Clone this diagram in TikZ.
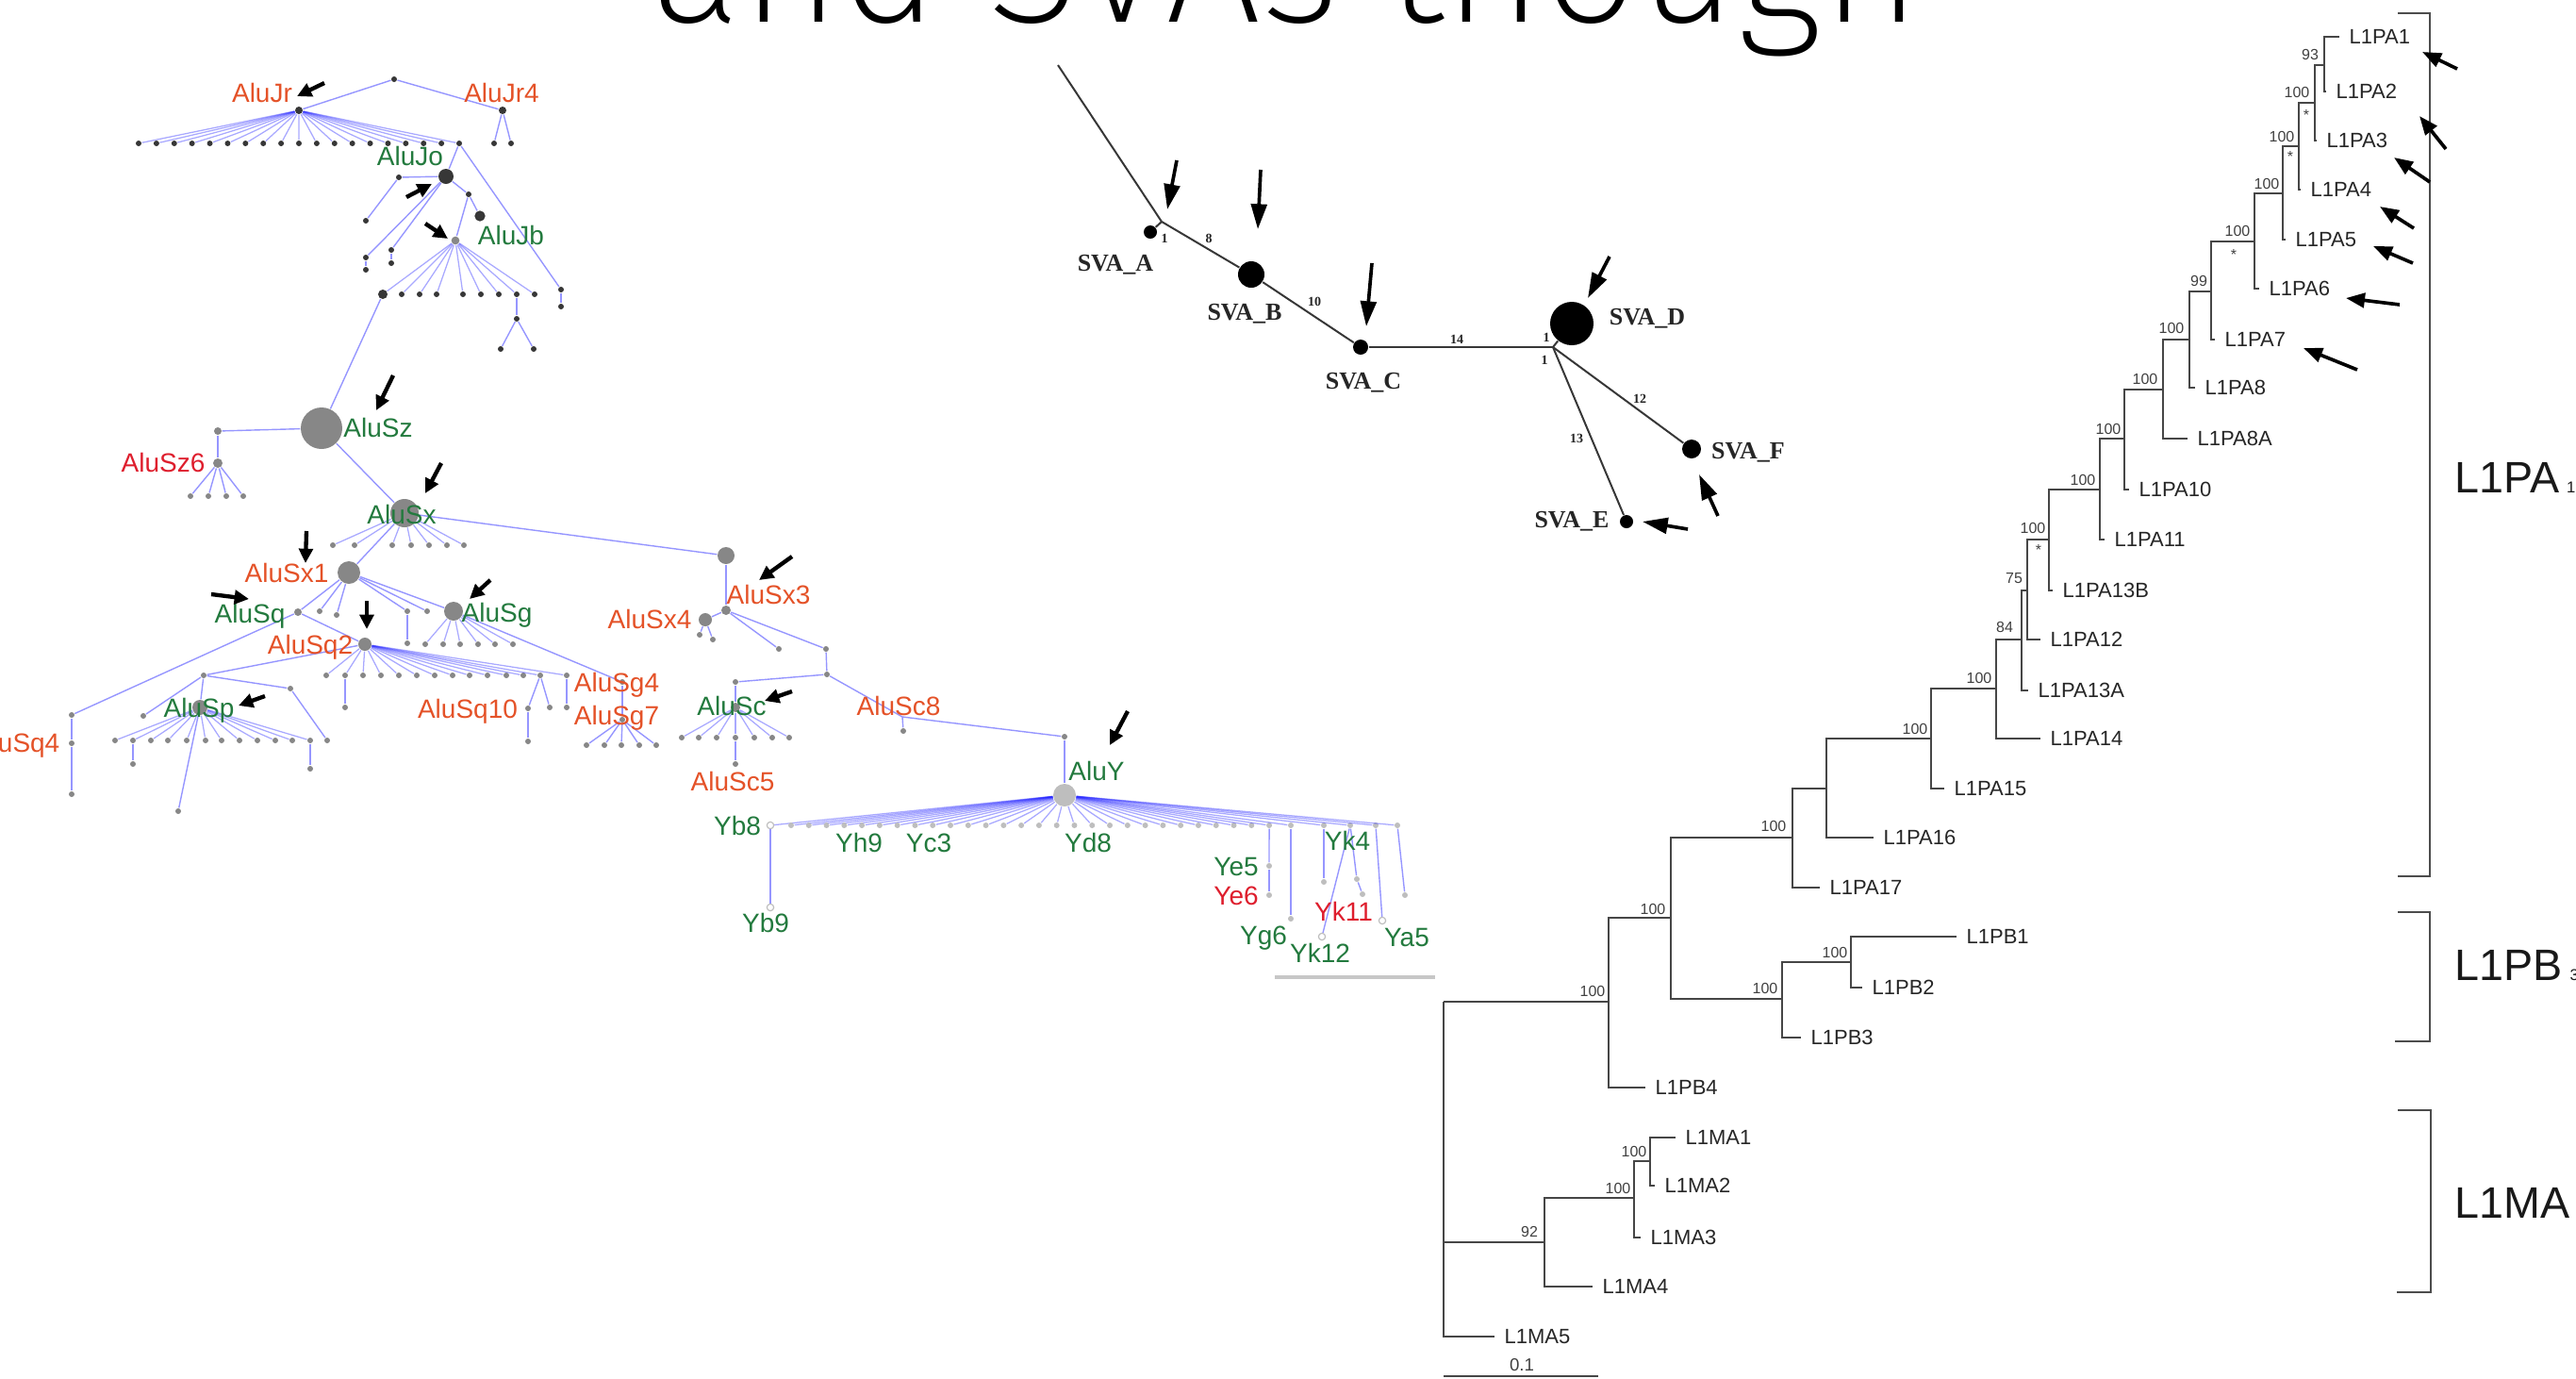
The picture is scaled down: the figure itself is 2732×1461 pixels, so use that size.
\documentclass[tikz,border=0pt]{standalone}
\usepackage{fontspec}
\setmainfont{Liberation Sans}
\newfontfamily\svafont{Liberation Serif}
\IfFontExistsTF{Fira Sans ExtraLight}{\newfontfamily\titlefont{Fira Sans ExtraLight}}{%
 \IfFontExistsTF{Fira Sans Light}{\newfontfamily\titlefont{Fira Sans Light}}{%
  \IfFontExistsTF{Lato Light}{\newfontfamily\titlefont{Lato Light}}{\newfontfamily\titlefont{Liberation Sans}}}}
\usetikzlibrary{arrows.meta}
\definecolor{aluline}{RGB}{150,150,255}
\definecolor{fanline}{RGB}{30,30,255}
\definecolor{dknode}{RGB}{55,55,55}
\definecolor{gynode}{RGB}{135,135,135}
\definecolor{ltnode}{RGB}{190,190,190}
\definecolor{orlab}{RGB}{228,82,40}
\definecolor{rdlab}{RGB}{222,30,45}
\definecolor{gnlab}{RGB}{35,122,62}
\definecolor{trline}{RGB}{70,70,70}
\definecolor{svaline}{RGB}{55,55,55}
\newcommand{\parrow}[4][ptr]{\coordinate (#2s) at (#3);\coordinate (#2e) at (#4);\draw[#1] (#2s) -- (#2e);}
\begin{document}
\begin{tikzpicture}[x=0.3pt,y=-0.3pt,
 ed/.style={draw=aluline,line width=0.42pt},
 fan/.style={draw=fanline,line width=0.38pt,draw opacity=0.38},
 dk/.style={circle,fill=dknode,inner sep=0pt,minimum size=#1},dk/.default=1.8pt,
 gy/.style={circle,fill=gynode,inner sep=0pt,minimum size=#1},gy/.default=1.8pt,
 lt/.style={circle,fill=ltnode,inner sep=0pt,minimum size=#1},lt/.default=1.8pt,
 op/.style={circle,draw=ltnode,fill=white,line width=0.35pt,inner sep=0pt,minimum size=2.2pt},
 alab/.style={font=\fontsize{8.4}{9}\selectfont,inner sep=0pt,anchor=mid},
 ora/.style={alab,text=orlab},
 rda/.style={alab,text=rdlab},
 gna/.style={alab,text=gnlab},
 ptr/.style={-{Triangle[length=4.6pt,width=4.4pt]},line width=1.3pt,black},
 ptrs/.style={-{Triangle[length=8pt,width=5pt]},line width=1.1pt,black},
 ptrl/.style={-{Triangle[length=6pt,width=4.6pt]},line width=1.1pt,black},
 sv/.style={draw=svaline,line width=0.6pt},
 svdot/.style={circle,fill=black,inner sep=0pt,minimum size=#1},
 svlab/.style={font=\svafont\bfseries\fontsize{7.8}{8}\selectfont,inner sep=0pt,anchor=mid,text=black!85},
 svnum/.style={font=\svafont\bfseries\fontsize{4.2}{5}\selectfont,inner sep=0pt,text=black!85},
 tr/.style={draw=trline,line width=0.6pt},
 leaf/.style={font=\fontsize{6.6}{7}\selectfont,anchor=west,inner xsep=3pt,inner ysep=0pt,text=black!85},
 bs/.style={font=\fontsize{4.8}{5}\selectfont,inner sep=0pt,text=black!75},
 brk/.style={draw=black!70,line width=0.8pt},
 big/.style={font=\fontsize{14}{15}\selectfont,inner sep=0pt,anchor=base west,text=black!90},
]
\useasboundingbox (0,0) rectangle (2732,1461);

% ---------------- title ----------------
\node[font=\titlefont\fontsize{54}{56}\selectfont,anchor=base,inner sep=0pt] (title) at (1364,23) {and SVAs though};

% ---------------- Alu network: top ----------------
\node[dk] (top) at (418,84) {};
\node[dk=2.4pt] (jr) at (317,117) {};
\node[dk=2.4pt] (jr4) at (533,117) {};
\node[dk] (jr4a) at (524,152) {};
\node[dk] (jr4b) at (542,152) {};
\draw[ed] (top) -- (jr); \draw[ed] (top) -- (jr4);
\draw[ed] (jr4) -- (jr4a); \draw[ed] (jr4) -- (jr4b);
\foreach \i in {0,...,18}{\node[dk] (jr\i) at ({147+18.89*\i},152) {}; \draw[fan] (jr) -- (jr\i);}
\node[dk=4.8pt] (jo) at (473,187) {};
\node[dk] (jo1) at (423,188) {};
\node[dk] (jo1a) at (388,234) {};
\node[dk] (jo2) at (388,273) {};
\node[dk] (jo2a) at (388,286) {};
\node[dk] (jo3) at (415,265) {};
\node[dk] (jo3a) at (415,279) {};
\node[dk] (jo4) at (497,206) {};
\node[dk=3.4pt] (jo4a) at (509,229) {};
\node[dk] (jl1) at (595,307) {};
\node[dk] (jl2) at (595,325) {};
\node[gy=2.6pt] (jb) at (483,255) {};
\draw[ed] (jr18) -- (jo);
\draw[ed] (jr18) -- (jl1);
\draw[ed] (jl1) -- (jl2);
\draw[ed] (jo) -- (jo1); \draw[ed] (jo1) -- (jo1a);
\draw[ed] (jo) -- (jo2); \draw[ed] (jo2) -- (jo2a);
\draw[ed] (jo) -- (jo3); \draw[ed] (jo3) -- (jo3a);
\draw[ed] (jo) -- (jo4); \draw[ed] (jo4) -- (jo4a);
\draw[ed] (jo4) -- (jb);
\node[dk=3pt] (jb1) at (406,312) {}; \draw[fan] (jb) -- (jb1);
\foreach \x/\i in {426/2,445/3,463/4,491/5,510/6,529/7,548/8,567/9}{\node[dk] (jb\i) at (\x,312) {}; \draw[fan] (jb) -- (jb\i);}
\node[dk] (jbs) at (548,338) {};
\node[dk] (jbsa) at (531,370) {};
\node[dk] (jbsb) at (566,370) {};
\draw[ed] (jb8) -- (jbs); \draw[ed] (jbs) -- (jbsa); \draw[ed] (jbs) -- (jbsb);

% ---------------- AluSz / AluSx ----------------
\node[gy=13.2pt] (sz) at (341,454) {};
\draw[ed] (jb1) -- (sz);
\node[gy=2.4pt] (szl) at (231,457) {};
\node[gy=3pt] (sz6) at (231,491) {};
\draw[ed] (sz) -- (szl); \draw[ed] (szl) -- (sz6);
\foreach \x/\i in {202/1,221/2,240/3,258/4}{\node[gy] (sz6c\i) at (\x,526) {}; \draw[ed] (sz6) -- (sz6c\i);}
\node[gy=9pt] (sx) at (429,544) {};
\draw[ed] (sz) -- (sx);
\foreach \x/\i in {353/1,376/2,416/3,436/4,455/5,474/6,492/7}{\node[gy] (sxc\i) at (\x,578) {}; \draw[fan] (sx) -- (sxc\i);}
\node[gy=7.2pt] (sx1) at (370,607) {};
\node[gy=5.4pt] (sx3p) at (770,589) {};
\draw[ed] (sx) -- (sx1); \draw[ed] (sx) -- (sx3p);
\node[gy=2.4pt] (sq) at (316,649) {};
\node[gy] (sx1c2) at (339,648) {};
\node[gy] (sx1c3) at (357,652) {};
\node[gy] (sx1c4) at (432,648) {};
\node[gy] (sx1c4a) at (432,682) {};
\node[gy] (sx1c5) at (453,648) {};
\node[gy=6pt] (sg) at (481,648) {};
\foreach \nm in {sq,sx1c2,sx1c3,sx1c4,sx1c5,sg}{\draw[ed] (sx1) -- (\nm);}
\draw[ed] (sx1c4) -- (sx1c4a);

% AluSq2
\node[gy=4.2pt] (sq2) at (387,683) {};
\draw[ed] (sq) -- (sq2);
\foreach \x/\i in {346/1,366/2,385/3,404/4,423/5,442/6,461/7,480/8,498/9,517/10,537/11,555/12,573/13,601/14}{\node[gy] (qc\i) at (\x,716) {}; \draw[fan] (sq2) -- (qc\i);}
\node[gy] (qc2a) at (366,750) {}; \draw[ed] (qc2) -- (qc2a);
\node[gy] (qc13a) at (560,751) {}; \node[gy] (qc13b) at (583,750) {}; \node[gy] (qc13c) at (560,786) {};
\draw[ed] (qc13) -- (qc13a); \draw[ed] (qc13) -- (qc13b); \draw[ed] (qc13a) -- (qc13c);
\node[gy] (qc14a) at (601,750) {}; \draw[ed] (qc14) -- (qc14a);

% AluSp
\node[gy] (spp) at (216,716) {};
\draw[ed] (sq2) -- (spp);
\node[gy=4.8pt] (sp) at (212,750) {};
\draw[ed] (spp) -- (sp);
\node[gy] (spl) at (152,759) {}; \draw[ed] (spp) -- (spl);
\node[gy] (spr) at (308,730) {}; \draw[ed] (spp) -- (spr);
\node[gy] (sprr) at (347,785) {}; \draw[ed] (spr) -- (sprr);
\foreach \x/\i in {122/1,141/2,160/3,178/4,198/5,218/6,235/7,254/8,273/9,292/10,310/11,329/12}{\node[gy] (pc\i) at (\x,785) {}; \draw[fan] (sp) -- (pc\i);}
\node[gy] (pc2a) at (141,810) {}; \draw[ed] (pc2) -- (pc2a);
\node[gy] (pc12a) at (329,815) {}; \draw[ed] (pc12) -- (pc12a);
\node[gy] (spd) at (189,860) {}; \draw[ed] (sp) -- (spd);
\node[gy] (q4a) at (76,758) {}; \node[gy] (q4b) at (76,788) {}; \node[gy] (q4c) at (76,842) {};
\draw[ed] (sq) -- (q4a); \draw[ed] (q4a) -- (q4b); \draw[ed] (q4b) -- (q4c);

% AluSg
\foreach \x/\i in {451/1,470/2,488/3,507/4,525/5,544/6}{\node[gy] (gc\i) at (\x,683) {}; \draw[fan] (sg) -- (gc\i);}
\node[gy] (sg4) at (660,723) {}; \node[gy] (sg7) at (660,763) {};
\draw[ed] (sg) -- (sg4); \draw[ed] (sg4) -- (sg7);
\foreach \x/\i in {622/1,641/2,659/3,678/4,696/5}{\node[gy] (g7c\i) at (\x,790) {}; \draw[ed] (sg7) -- (g7c\i);}

% AluSx3 / AluSc
\node[gy=3pt] (sx3) at (770,647) {};
\draw[ed] (sx3p) -- (sx3);
\node[gy=4.2pt] (sx4) at (748,657) {};
\draw[ed] (sx3) -- (sx4);
\node[gy] (sx4a) at (742,673) {}; \node[gy] (sx4b) at (756,678) {};
\draw[ed] (sx4) -- (sx4a); \draw[ed] (sx4) -- (sx4b);
\node[gy] (x3a) at (826,688) {}; \draw[ed] (sx3) -- (x3a);
\node[gy] (x3b) at (876,688) {}; \draw[ed] (sx3) -- (x3b);
\node[gy] (x3c) at (877,715) {}; \draw[ed] (x3b) -- (x3c);
\node[gy] (scp) at (780,723) {}; \draw[ed] (x3c) -- (scp);
\node[gy=3pt] (sc) at (780,750) {}; \draw[ed] (scp) -- (sc);
\foreach \x/\i in {723/1,741/2,760/3,780/4,800/5,819/6,837/7}{\node[gy] (cc\i) at (\x,782) {}; \draw[fan] (sc) -- (cc\i);}
\node[gy] (sc5) at (780,810) {}; \draw[ed] (cc4) -- (sc5);
\coordinate (sc8) at (957,760); \draw[ed] (x3c) -- (sc8);
\node[gy] (sc8a) at (958,775) {}; \draw[ed] (sc8) -- (sc8a);
\node[gy] (yp) at (1129,781) {}; \draw[ed] (sc8) -- (yp);
\node[lt=7.2pt] (yh) at (1129,843) {}; \draw[ed] (yp) -- (yh);

% AluY fan
\node[op] (yb8) at (817,875) {}; \draw[fan] (yh) -- (yb8);
\foreach \i in {0,...,27}{\node[lt] (yc\i) at ({839+18.78*\i},875) {}; \draw[fan] (yh) -- (yc\i);}
\foreach \x/\nm in {1369/yg,1404/yx,1432/yk,1459/yz,1482/yw}{\node[lt] (\nm) at (\x,875) {}; \draw[fan] (yh) -- (\nm);}
\node[op] (yb9) at (817,962) {}; \draw[ed] (yb8) -- (yb9);
\node[lt] (ye5) at (1346,918) {}; \node[lt] (ye6) at (1346,949) {};
\draw[ed] (yc27) -- (ye5); \draw[ed] (ye5) -- (ye6);
\node[lt] (yg6) at (1369,974) {}; \draw[ed] (yg) -- (yg6);
\node[lt] (yxa) at (1404,935) {}; \draw[ed] (yx) -- (yxa);
\node[op] (yk12) at (1402,993) {}; \draw[ed] (yk) -- (yk12);
\node[lt] (yk11) at (1439,932) {}; \draw[ed] (yk) -- (yk11);
\node[lt] (yk11a) at (1445,948) {}; \draw[ed] (yk11) -- (yk11a);
\node[op] (ya5) at (1466,976) {}; \draw[ed] (yz) -- (ya5);
\node[lt] (ywa) at (1490,949) {}; \draw[ed] (yw) -- (ywa);
\coordinate (asb1) at (1352,1036); \coordinate (asb2) at (1522,1036);
\draw[draw=black!22,line width=1.2pt] (asb1) -- (asb2);

% Alu labels
\node[ora] (lJr) at (278,100) {AluJr};
\node[ora] (lJr4) at (532,100) {AluJr4};
\node[gna] (lJo) at (435,167) {AluJo};
\node[gna] (lJb) at (542,251) {AluJb};
\node[gna] (lSz) at (401,455) {AluSz};
\node[rda] (lSz6) at (173,492) {AluSz6};
\node[gna] (lSx) at (426,547) {AluSx};
\node[ora] (lSx1) at (304,609) {AluSx1};
\node[gna] (lSq) at (265,652) {AluSq};
\node[gna] (lSg) at (527,651) {AluSg};
\node[ora] (lSq2) at (329,685) {AluSq2};
\node[ora] (lSq10) at (496,753) {AluSq10};
\node[ora] (lSg4) at (654,725) {AluSg4};
\node[ora] (lSg7) at (654,760) {AluSg7};
\node[gna] (lSp) at (211,752) {AluSp};
\node[ora,anchor=east] (lSq4) at (64,790) {AluSq4};
\node[ora] (lSx3) at (815,632) {AluSx3};
\node[ora] (lSx4) at (689,658) {AluSx4};
\node[gna] (lSc) at (776,750) {AluSc};
\node[ora] (lSc5) at (777,830) {AluSc5};
\node[ora] (lSc8) at (953,750) {AluSc8};
\node[gna] (lY) at (1163,819) {AluY};
\node[gna] (lYb8) at (782,877) {Yb8};
\node[gna] (lYb9) at (812,980) {Yb9};
\node[gna] (lYh9) at (911,895) {Yh9};
\node[gna] (lYc3) at (985,895) {Yc3};
\node[gna] (lYd8) at (1154,895) {Yd8};
\node[gna] (lYe5) at (1311,920) {Ye5};
\node[rda] (lYe6) at (1311,951) {Ye6};
\node[gna] (lYg6) at (1340,993) {Yg6};
\node[gna] (lYk4) at (1429,893) {Yk4};
\node[rda] (lYk11) at (1425,968) {Yk11};
\node[gna] (lYk12) at (1400,1012) {Yk12};
\node[gna] (lYa5) at (1492,995) {Ya5};

% Alu arrows
\parrow{aa1}{344,88}{315,102}
\parrow{aa2}{431,209}{458,195}
\parrow{aa3}{451,237}{475,253}
\parrow{aa4}{417,398}{399,435}
\parrow{aa5}{468,491}{451,523}
\parrow{aa6}{325,563}{324,597}
\parrow{aa7}{224,630}{264,635}
\parrow{aa8}{389,637}{389,667}
\parrow{aa9}{520,615}{498,635}
\parrow{aa10}{281,738}{253,748}
\parrow{aa11}{840,590}{805,615}
\parrow{aa12}{840,733}{811,743}
\parrow{aa13}{1196,754}{1177,790}

% ---------------- SVA network ----------------
\coordinate (svtop) at (1122,69);
\coordinate (ja) at (1232,235);
\coordinate (jd) at (1647,368);
\node[svdot=4.2pt] (sA) at (1220,246) {};
\node[svdot=8.4pt] (sB) at (1327,291) {};
\node[svdot=4.8pt] (sC) at (1443,368) {};
\node[svdot=13.8pt] (sD) at (1667,343) {};
\node[svdot=6pt] (sF) at (1794,476) {};
\node[svdot=4.2pt] (sE) at (1725,553) {};
\draw[sv] (svtop) -- (ja);
\draw[sv] (ja) -- (sA);
\draw[sv] (ja) -- (sB);
\draw[sv] (sB) -- (sC);
\draw[sv] (sC) -- (jd);
\draw[sv] (jd) -- (sD);
\draw[sv] (jd) -- (sF);
\draw[sv] (jd) -- (sE);
\node[svlab] (lsA) at (1183,279) {SVA\_A};
\node[svlab] (lsB) at (1320,331) {SVA\_B};
\node[svlab] (lsC) at (1446,404) {SVA\_C};
\node[svlab] (lsD) at (1747,336) {SVA\_D};
\node[svlab] (lsF) at (1854,478) {SVA\_F};
\node[svlab] (lsE) at (1667,551) {SVA\_E};
\node[svnum] (n1) at (1235,253) {1};
\node[svnum] (n2) at (1282,253) {8};
\node[svnum] (n3) at (1394,320) {10};
\node[svnum] (n4) at (1545,360) {14};
\node[svnum] (n5) at (1640,358) {1};
\node[svnum] (n6) at (1638,382) {1};
\node[svnum] (n7) at (1739,423) {12};
\node[svnum] (n8) at (1672,465) {13};
\parrow[ptrs]{sa1}{1248,170}{1238,222}
\parrow[ptrs]{sa2}{1337,180}{1334,243}
\parrow[ptrs]{sa3}{1455,279}{1449,346}
\parrow[ptrs]{sa4}{1707,272}{1684,316}
\parrow[ptrs]{sa5}{1822,547}{1802,503}
\parrow[ptrs]{sa6}{1790,561}{1742,553}

% ---------------- L1 tree ----------------
\coordinate (r0) at (1531,1062);
\coordinate (a100) at (1706,1062);
\coordinate (b100) at (1772,973);
\coordinate (pb) at (1890,1059);
\coordinate (pb12) at (1963,1020);
\coordinate (pa0) at (1901,888);
\coordinate (pa16) at (1937,836);
\coordinate (pa15) at (2048,783);
\coordinate (pa14) at (2117,730);
\coordinate (pa84) at (2144,678);
\coordinate (pa75) at (2150,626);
\coordinate (pa13) at (2173,572);
\coordinate (pa11) at (2227,519);
\coordinate (pa10) at (2253,465);
\coordinate (pa8a) at (2294,413);
\coordinate (pa8) at (2322,360);
\coordinate (pa7) at (2345,309);
\coordinate (pa6) at (2391,256);
\coordinate (pa5) at (2421,205);
\coordinate (pa4) at (2438,155);
\coordinate (pa3) at (2455,109);
\coordinate (pa93) at (2465,69);
\coordinate (m92) at (1638,1317);
\coordinate (m3) at (1733,1270);
\coordinate (m1) at (1750,1231);

\node[leaf] (L1PA1) at (2481,39) {L1PA1};
\node[leaf] (L1PA2) at (2467,97) {L1PA2};
\node[leaf] (L1PA3) at (2457,149) {L1PA3};
\node[leaf] (L1PA4) at (2440,201) {L1PA4};
\node[leaf] (L1PA5) at (2424,254) {L1PA5};
\node[leaf] (L1PA6) at (2396,306) {L1PA6};
\node[leaf] (L1PA7) at (2349,360) {L1PA7};
\node[leaf] (L1PA8) at (2328,411) {L1PA8};
\node[leaf] (L1PA8A) at (2320,465) {L1PA8A};
\node[leaf] (L1PA10) at (2258,519) {L1PA10};
\node[leaf] (L1PA11) at (2232,572) {L1PA11};
\node[leaf] (L1PA13B) at (2177,626) {L1PA13B};
\node[leaf] (L1PA12) at (2164,678) {L1PA12};
\node[leaf] (L1PA13A) at (2151,732) {L1PA13A};
\node[leaf] (L1PA14) at (2164,783) {L1PA14};
\node[leaf] (L1PA15) at (2062,836) {L1PA15};
\node[leaf] (L1PA16) at (1987,888) {L1PA16};
\node[leaf] (L1PA17) at (1930,941) {L1PA17};
\node[leaf] (L1PB1) at (2075,993) {L1PB1};
\node[leaf] (L1PB2) at (1975,1047) {L1PB2};
\node[leaf] (L1PB3) at (1910,1100) {L1PB3};
\node[leaf] (L1PB4) at (1745,1153) {L1PB4};
\node[leaf] (L1MA1) at (1777,1206) {L1MA1};
\node[leaf] (L1MA2) at (1755,1257) {L1MA2};
\node[leaf] (L1MA3) at (1740,1312) {L1MA3};
\node[leaf] (L1MA4) at (1689,1364) {L1MA4};
\node[leaf] (L1MA5) at (1585,1417) {L1MA5};

\draw[tr] (r0) |- (a100);
\draw[tr] (r0) |- (m92);
\draw[tr] (r0) |- (L1MA5);
\draw[tr] (a100) |- (b100);
\draw[tr] (a100) |- (L1PB4);
\draw[tr] (b100) |- (pa0);
\draw[tr] (b100) |- (pb);
\draw[tr] (pb) |- (pb12);
\draw[tr] (pb) |- (L1PB3);
\draw[tr] (pb12) |- (L1PB1);
\draw[tr] (pb12) |- (L1PB2);
\draw[tr] (pa0) |- (pa16);
\draw[tr] (pa0) |- (L1PA17);
\draw[tr] (pa16) |- (pa15);
\draw[tr] (pa16) |- (L1PA16);
\draw[tr] (pa15) |- (pa14);
\draw[tr] (pa15) |- (L1PA15);
\draw[tr] (pa14) |- (pa84);
\draw[tr] (pa14) |- (L1PA14);
\draw[tr] (pa84) |- (pa75);
\draw[tr] (pa84) |- (L1PA13A);
\draw[tr] (pa75) |- (pa13);
\draw[tr] (pa75) |- (L1PA12);
\draw[tr] (pa13) |- (pa11);
\draw[tr] (pa13) |- (L1PA13B);
\draw[tr] (pa11) |- (pa10);
\draw[tr] (pa11) |- (L1PA11);
\draw[tr] (pa10) |- (pa8a);
\draw[tr] (pa10) |- (L1PA10);
\draw[tr] (pa8a) |- (pa8);
\draw[tr] (pa8a) |- (L1PA8A);
\draw[tr] (pa8) |- (pa7);
\draw[tr] (pa8) |- (L1PA8);
\draw[tr] (pa7) |- (pa6);
\draw[tr] (pa7) |- (L1PA7);
\draw[tr] (pa6) |- (pa5);
\draw[tr] (pa6) |- (L1PA6);
\draw[tr] (pa5) |- (pa4);
\draw[tr] (pa5) |- (L1PA5);
\draw[tr] (pa4) |- (pa3);
\draw[tr] (pa4) |- (L1PA4);
\draw[tr] (pa3) |- (pa93);
\draw[tr] (pa3) |- (L1PA3);
\draw[tr] (pa93) |- (L1PA1);
\draw[tr] (pa93) |- (L1PA2);
\draw[tr] (m92) |- (m3);
\draw[tr] (m92) |- (L1MA4);
\draw[tr] (m3) |- (m1);
\draw[tr] (m3) |- (L1MA3);
\draw[tr] (m1) |- (L1MA1);
\draw[tr] (m1) |- (L1MA2);

% bootstrap values
\node[bs] (b01) at (2450,58) {93};
\node[bs] (b02) at (2436,98) {100};
\node[bs] (b03) at (2446,122) {*};
\node[bs] (b04) at (2420,145) {100};
\node[bs] (b05) at (2429,166) {*};
\node[bs] (b06) at (2404,195) {100};
\node[bs] (b07) at (2373,245) {100};
\node[bs] (b08) at (2369,270) {*};
\node[bs] (b09) at (2332,298) {99};
\node[bs] (b10) at (2303,348) {100};
\node[bs] (b11) at (2275,402) {100};
\node[bs] (b12) at (2236,455) {100};
\node[bs] (b13) at (2209,509) {100};
\node[bs] (b14) at (2156,560) {100};
\node[bs] (b15) at (2162,583) {*};
\node[bs] (b16) at (2136,613) {75};
\node[bs] (b17) at (2126,665) {84};
\node[bs] (b18) at (2099,719) {100};
\node[bs] (b19) at (2031,773) {100};
\node[bs] (b20) at (1881,876) {100};
\node[bs] (b21) at (1753,964) {100};
\node[bs] (b22) at (1872,1048) {100};
\node[bs] (b23) at (1946,1010) {100};
\node[bs] (b24) at (1689,1051) {100};
\node[bs] (b25) at (1622,1306) {92};
\node[bs] (b26) at (1716,1260) {100};
\node[bs] (b27) at (1733,1221) {100};

% scale bar
\coordinate (lsb1) at (1531,1459); \coordinate (lsb2) at (1695,1459);
\draw[tr] (lsb1) -- (lsb2);
\node[bs,font=\fontsize{5.6}{6}\selectfont] (lsbt) at (1614,1447) {0.1};

% brackets
\draw[brk] (2543,14) -- (2577,14) -- (2577,929) -- (2543,929);
\draw[brk] (2543,967) -- (2577,967) -- (2577,1104) -- (2540,1104);
\draw[brk] (2543,1177) -- (2578,1177) -- (2578,1370) -- (2542,1370);
\node[big] (gpa) at (2603,522) {L1PA\,{\fontsize{5}{5}\selectfont 17}};
\node[big] (gpb) at (2603,1039) {L1PB\,{\fontsize{5}{5}\selectfont 3}};
\node[big] (gma) at (2603,1291) {L1MA};

% L1 arrows
\parrow[ptrl]{la1}{2606,73}{2569,55}
\parrow[ptrl]{la2}{2594,158}{2566,123}
\parrow[ptrl]{la3}{2577,193}{2539,167}
\parrow[ptrl]{la4}{2560,242}{2524,219}
\parrow[ptrl]{la5}{2559,279}{2517,261}
\parrow[ptrl]{la6}{2545,323}{2488,316}
\parrow[ptrl]{la7}{2500,392}{2443,369}
\end{tikzpicture}
\end{document}
